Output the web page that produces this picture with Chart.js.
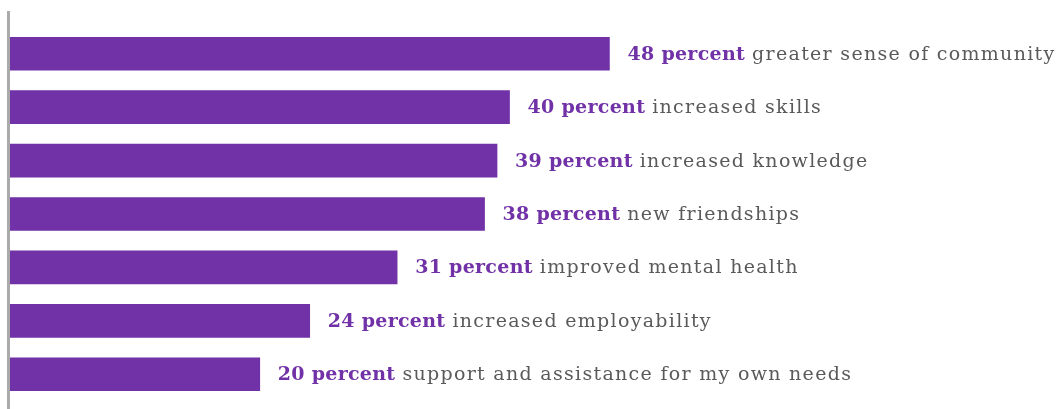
<!DOCTYPE html>
<html>
<head>
<meta charset="utf-8">
<script src="https://cdn.jsdelivr.net/npm/chart.js@4/dist/chart.umd.min.js"></script>
<style>
  html, body { margin: 0; padding: 0; background: #fff; }
  #wrap { width: 1059px; height: 409px; position: relative; }
</style>
</head>
<body>
<div id="wrap"><canvas id="benefitChart"></canvas></div>
<script>
const categories = [
    "greater sense of community",
    "increased skills",
    "increased knowledge",
    "new friendships",
    "improved mental health",
    "increased employability",
    "support and assistance for my own needs"
];
const percents = [48, 40, 39, 38, 31, 24, 20];

const purple = "#7131a7";
const grey = "#5a5a5a";
const fontFamily = "'DejaVu Serif', serif";

// labels to the right of each bar: bold number + plain description
const barLabels = {
    id: 'barLabels',
    afterDatasetsDraw(chart) {
        const ctx = chart.ctx;
        const meta = chart.getDatasetMeta(0);
        ctx.save();
        ctx.textBaseline = 'middle';
        meta.data.forEach((bar, i) => {
            let x = bar.x + 18;
            const y = bar.y + 1;
            const bold = percents[i] + " percent";
            ctx.font = "bold 19px " + fontFamily;
            ctx.letterSpacing = "0.3px";
            ctx.fillStyle = purple;
            ctx.fillText(bold, x, y);
            x += ctx.measureText(bold).width + 7;
            ctx.font = "19px " + fontFamily;
            ctx.letterSpacing = "1.3px";
            ctx.fillStyle = grey;
            ctx.fillText(categories[i], x, y);
        });
        ctx.restore();
    }
};

// grey vertical axis line on the left
const axisLine = {
    id: 'axisLine',
    afterDraw(chart) {
        const ctx = chart.ctx;
        const a = chart.chartArea;
        ctx.save();
        ctx.strokeStyle = "#aaaaaa";
        ctx.lineWidth = 3;
        ctx.beginPath();
        ctx.moveTo(a.left - 1.5, a.top - 16);
        ctx.lineTo(a.left - 1.5, chart.height);
        ctx.stroke();
        ctx.restore();
    }
};

new Chart(document.getElementById('benefitChart'), {
    type: 'bar',
    data: {
        labels: categories,
        datasets: [{
            data: percents,
            backgroundColor: purple,
            barThickness: 33
        }]
    },
    options: {
        indexAxis: 'y',
        responsive: true,
        maintainAspectRatio: false,
        animation: false,
        layout: { padding: { left: 10, top: 27, bottom: 8, right: 0 } },
        plugins: {
            legend: { display: false },
            tooltip: { enabled: false }
        },
        scales: {
            x: { display: false, min: 0, max: 84 },
            y: { display: false }
        }
    },
    plugins: [barLabels, axisLine]
});
</script>
</body>
</html>
